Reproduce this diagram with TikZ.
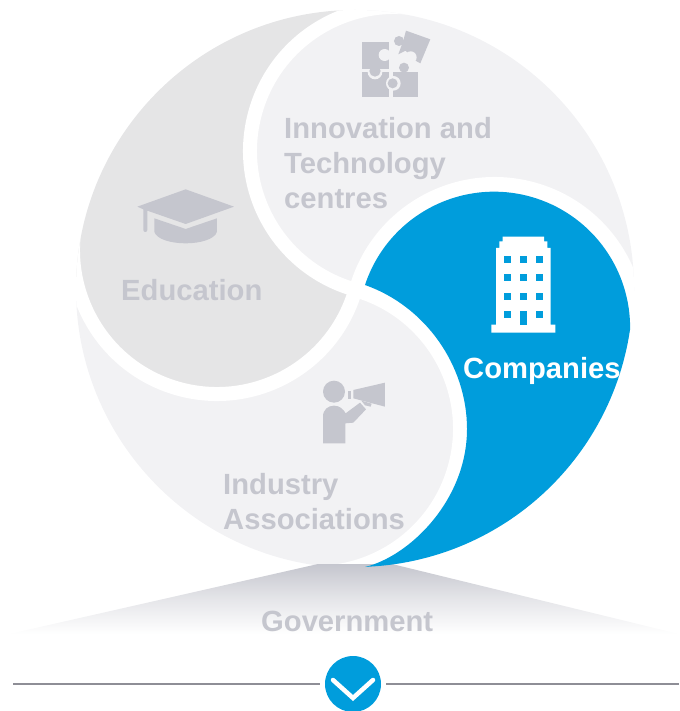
\documentclass[tikz,border=0pt]{standalone}
\usepackage{fontspec}
\usetikzlibrary{calc}
\setmainfont{Liberation Sans}
\definecolor{blueP}{HTML}{009DDC}
\definecolor{eduG}{HTML}{E5E5E6}
\definecolor{lightG}{HTML}{F2F2F4}
\definecolor{iconG}{HTML}{C5C6CE}
\definecolor{ruleG}{HTML}{8E8E96}
\tikzset{
  lbl/.style={font=\bfseries\fontsize{29.2}{35}\selectfont,inner sep=0pt,anchor=base west,text=iconG},
  band/.style={draw=white,line width=14pt},
}
\begin{document}
\begin{tikzpicture}[x=1pt,y=-1pt]
\useasboundingbox (0,0) rectangle (679,711);
\coordinate (C) at (355,289);
\coordinate (SB) at (494.7,328);
\coordinate (SI) at (316,428.7);
\coordinate (SE) at (217,250);
\coordinate (SN) at (394,151);
\begin{scope}
  \clip (C) circle[radius=279];
  % innovation
  \fill[lightG] ($(SN)+(285.6:144)$) arc[start angle=285.6,end angle=105.6,radius=144] -- (C) -- ($(SB)+(195.6:144)$) arc[start angle=195.6,end angle=375.6,radius=144] -- ($(C)+(15.6:300)$) arc[start angle=15.6,end angle=-74.4,radius=300] -- cycle;
  % education
  \fill[eduG] ($(SE)+(195.6:144)$) arc[start angle=195.6,end angle=15.6,radius=144] -- (C) -- ($(SN)+(105.6:144)$) arc[start angle=105.6,end angle=285.6,radius=144] -- ($(C)+(285.6:300)$) arc[start angle=285.6,end angle=195.6,radius=300] -- cycle;
  % industry
  \fill[lightG] ($(SI)+(105.6:144)$) arc[start angle=105.6,end angle=-74.4,radius=144] -- (C) -- ($(SE)+(15.6:144)$) arc[start angle=15.6,end angle=195.6,radius=144] -- ($(C)+(195.6:300)$) arc[start angle=195.6,end angle=105.6,radius=300] -- cycle;
  % white bands
  \draw[band] ($(SB)+(195.6:144)$) arc[start angle=195.6,end angle=375.6,radius=144];
  \draw[band] ($(SI)+(285.6:144)$) arc[start angle=285.6,end angle=465.6,radius=144];
  \draw[band] ($(SE)+(15.6:144)$) arc[start angle=15.6,end angle=195.6,radius=144];
  \draw[band] ($(SN)+(105.6:144)$) arc[start angle=105.6,end angle=285.6,radius=144];
\end{scope}
% government wedge
\shade[top color=iconG,bottom color=white,middle color=iconG!45!white] (318,564) -- (392,564) -- (679,634) -- (9,634) -- cycle;
% companies
\fill[blueP] (365,285) arc[start angle=198.3,end angle=360.8,radius=136] -- ($(C)+(8.5:278)$) arc[start angle=8.5,end angle=86.5,radius=278] -- (365,567) .. controls (410,556) and (467,500) .. (467,429) .. controls (467,365) and (425,306) .. (365,285) -- cycle;
% building icon
\begin{scope}[shift={(460,220)},scale=0.3333]
  \fill[white] (128,50) -- (252,50) -- (252,64) -- (262,64) -- (262,84) -- (272,84) -- (272,314) -- (286,314) -- (286,338) -- (94,338) -- (94,314) -- (108,314) -- (108,84) -- (118,84) -- (118,64) -- (128,64) -- cycle;
  \foreach \wx in {132,180,228} \foreach \wy in {108,163,218}
    \fill[blueP] (\wx,\wy) rectangle ++(21,21);
  \fill[blueP] (132,273) rectangle ++(21,21);
  \fill[blueP] (228,273) rectangle ++(21,21);
  \fill[blueP] (180,273) rectangle (201,314);
\end{scope}
% puzzle icon
\begin{scope}[shift={(240,0)},scale=0.3333]
  \fill[iconG] (366,215) rectangle (448,291);
  \fill[lightG] (405,216) circle[radius=22];
  \fill[iconG] (366,125) rectangle (448,207);
  \fill[iconG] (405,213) circle[radius=17];
  \fill[lightG] (434,165) circle[radius=18];
  \fill[lightG] (425,152) rectangle (450,178);
  \fill[iconG] (458,215) rectangle (533,291);
  \fill[lightG] (460,250) circle[radius=22];
  \fill[iconG] (492,203) circle[radius=15];
  \fill[iconG] (458,250) circle[radius=15];
  \fill[iconG] (498,92) -- (571,118) -- (541,190) -- (523,180) -- (497,152) -- (475,163) -- (489,125) -- cycle;
  \fill[iconG] (477,123) circle[radius=15];
  \fill[lightG] (512,172) circle[radius=18];
\end{scope}
% mortarboard icon
\begin{scope}[shift={(70,170)},scale=0.3333]
  \fill[iconG] (347,58) -- (492,110) -- (347,162) -- (232,122) -- (232,180) arc[start angle=0,end angle=180,radius=6] -- (220,118) -- (202,110) -- cycle;
  \fill[iconG] (253,145) -- (347,177) -- (441,145) -- (441,185) .. controls (435,208) and (390,220) .. (347,220) .. controls (304,220) and (259,208) .. (253,185) -- cycle;
\end{scope}
% megaphone icon
\begin{scope}[shift={(300,360)},scale=0.3333]
  \fill[iconG] (102,95) circle[radius=33];
  \fill[iconG] (69,250) -- (69,170) .. controls (69,148) and (85,137) .. (102,137) .. controls (120,137) and (130,148) .. (137,160) -- (180,128) -- (198,148) -- (160,188) -- (136,190) -- (136,250) -- cycle;
  \fill[iconG] (160,90) -- (255,68) -- (255,140) -- (160,115) -- cycle;
  \fill[iconG] (145,92) rectangle (153,116);
  \fill[iconG] (184,122) -- (215,131) -- (212,140) -- (195,136) -- cycle;
\end{scope}
% labels
\node[lbl] (innov) at (284,138.5) {Innovation and};
\node[lbl] (techn) at (284,173.5) {Technology};
\node[lbl] (centr) at (284,208) {centres};
\node[lbl] (educ) at (121,300) {Education};
\node[lbl,text=white] (comp) at (463,378) {Companies};
\node[lbl] (indu) at (223,494) {Industry};
\node[lbl] (asso) at (223,529) {Associations};
\node[lbl] (govt) at (261,631) {Government};
% bottom rule and chevron
\node[circle,fill=blueP,minimum size=56pt,inner sep=0pt] (chev) at (353,684) {};
\coordinate (ruleL) at (13,684);
\coordinate (ruleR) at (679,684);
\draw[ruleG,line width=2pt] (ruleL) -- ([xshift=-5pt]chev.west);
\draw[ruleG,line width=2pt] ([xshift=5pt]chev.east) -- (ruleR);
\draw[white,line width=4.5pt,line cap=round,line join=miter] (333,680) -- (353,698) -- (373,680);
\end{tikzpicture}
\end{document}
